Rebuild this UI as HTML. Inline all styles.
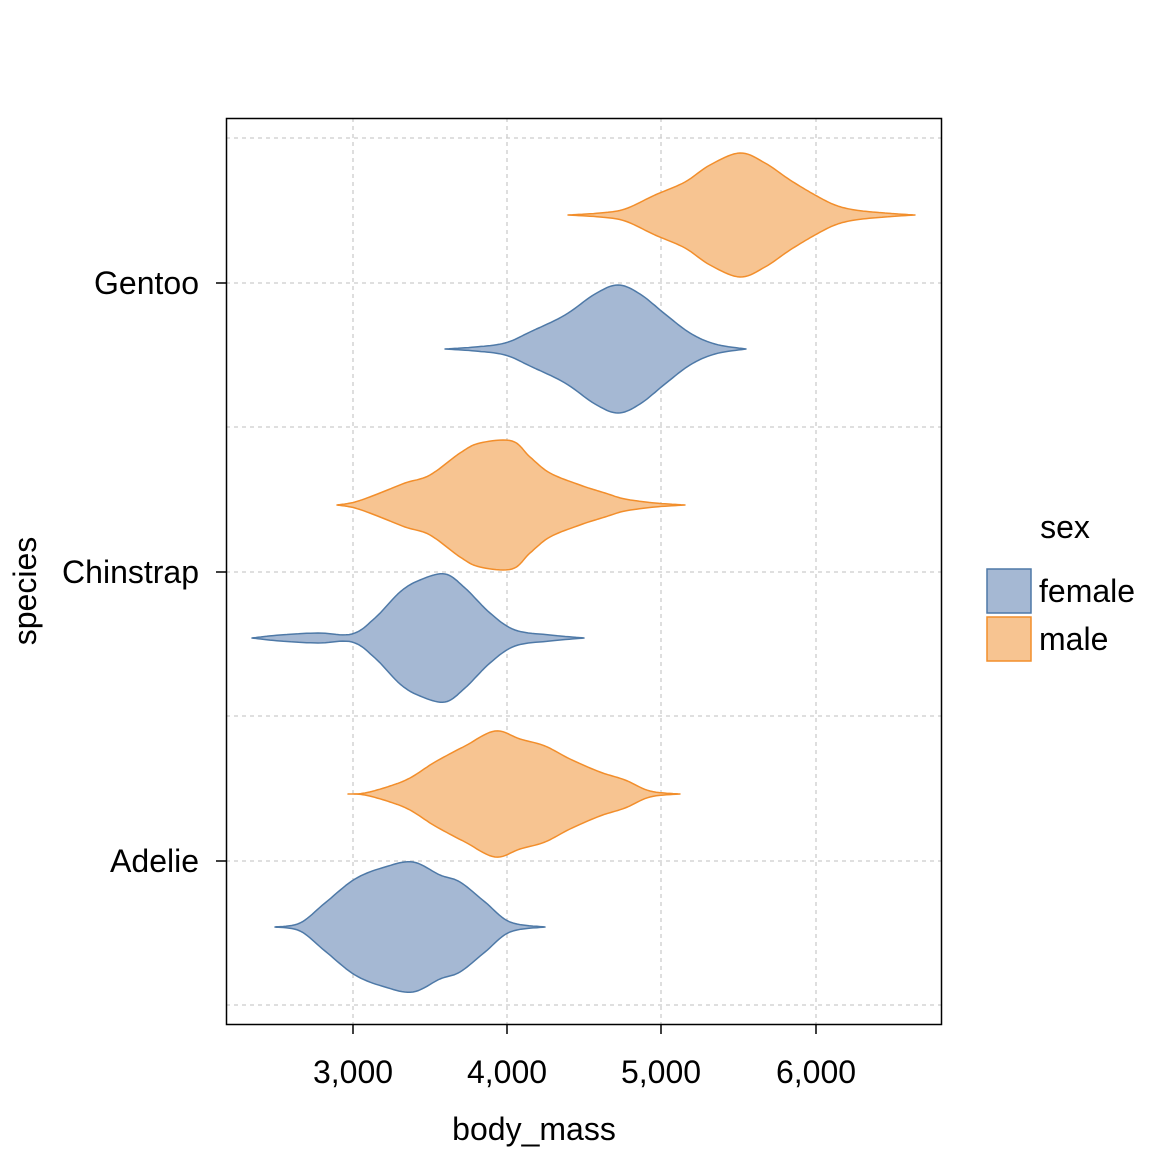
<!DOCTYPE html>
<html><head><meta charset="utf-8"><style>
html,body{margin:0;padding:0;background:#fff;}
svg text{font-family:"Liberation Sans",sans-serif;fill:#000;}
</style></head><body>
<svg id="s" width="1152" height="1152" viewBox="0 0 1152 1152" xmlns="http://www.w3.org/2000/svg">
<rect width="1152" height="1152" fill="#fff"/>
<g stroke="#ccc" stroke-width="1.3" stroke-dasharray="4,4" fill="none">
<line x1="353" y1="118" x2="353" y2="1024"/><line x1="507" y1="118" x2="507" y2="1024"/>
<line x1="661" y1="118" x2="661" y2="1024"/><line x1="816" y1="118" x2="816" y2="1024"/>
<line x1="226" y1="138" x2="942" y2="138"/><line x1="226" y1="283" x2="942" y2="283"/>
<line x1="226" y1="427" x2="942" y2="427"/><line x1="226" y1="572" x2="942" y2="572"/>
<line x1="226" y1="716" x2="942" y2="716"/><line x1="226" y1="861" x2="942" y2="861"/>
<line x1="226" y1="1005" x2="942" y2="1005"/>
</g>
<g id="v"></g>
<rect x="226.5" y="118.5" width="715" height="906" fill="none" stroke="#000" stroke-width="1.5"/>
<g stroke="#000" stroke-width="1.5">
<line x1="353" y1="1024" x2="353" y2="1034"/><line x1="507" y1="1024" x2="507" y2="1034"/>
<line x1="661" y1="1024" x2="661" y2="1034"/><line x1="816" y1="1024" x2="816" y2="1034"/>
<line x1="216" y1="283" x2="226" y2="283"/><line x1="216" y1="572" x2="226" y2="572"/><line x1="216" y1="861" x2="226" y2="861"/>
</g>
<g font-size="32">
<text x="353" y="1083" text-anchor="middle">3,000</text>
<text x="507" y="1083" text-anchor="middle">4,000</text>
<text x="661" y="1083" text-anchor="middle">5,000</text>
<text x="816" y="1083" text-anchor="middle">6,000</text>
<text x="199" y="294" text-anchor="end">Gentoo</text>
<text x="199" y="583" text-anchor="end">Chinstrap</text>
<text x="199" y="872" text-anchor="end">Adelie</text>
<text x="534" y="1140" text-anchor="middle">body_mass</text>
<text transform="translate(36,591) rotate(-90)" text-anchor="middle">species</text>
<text x="1065" y="538" text-anchor="middle">sex</text>
<text x="1039" y="602">female</text>
<text x="1039" y="650">male</text>
</g>
<rect x="987" y="569" width="44" height="44" fill="#a5b8d3" stroke="#4e79a7" stroke-width="1.5"/>
<rect x="987" y="617" width="44" height="44" fill="#f7c491" stroke="#f28e2b" stroke-width="1.5"/>
</svg>
<script>
var V=[
[215,'m',[[568,0],[600,2],[625,6],[655,20],[685,33],[710,50],[740,62],[765,52],[790,35],[815,20],[835,10],[855,5],[885,2],[915,0]]],
[349,'f',[[445,0],[475,2],[505,6],[530,17],[565,34],[595,55],[618,64],[640,55],[665,35],[690,16],[715,5],[746,0]]],
[505,'m',[[337,0],[355,3],[380,12],[405,22],[430,30],[460,52],[480,62],[512,64],[530,48],[550,32],[580,20],[605,12],[625,6],[655,2],[685,0]]],
[638,'f',[[252,0],[280,3],[318,5],[352,4],[375,20],[400,46],[420,58],[445,64],[465,50],[490,25],[515,8],[550,3],[584,0]]],
[794,'m',[[348,0],[365,1],[390,8],[410,16],[435,32],[465,48],[495,63],[520,55],[545,48],[570,35],[600,22],[625,14],[650,3],[680,0]]],
[927,'f',[[275,0],[300,4],[325,24],[355,48],[385,60],[413,65],[440,52],[460,45],[485,25],[510,5],[545,0]]]];
function smooth(p){var o=[];for(var i=0;i<p.length-1;i++){var a=p[Math.max(i-1,0)],b=p[i],c=p[i+1],d=p[Math.min(i+2,p.length-1)];
for(var t=0;t<1;t+=0.1){var t2=t*t,t3=t2*t;o.push([0,1].map(function(k){return 0.5*((2*b[k])+(-a[k]+c[k])*t+(2*a[k]-5*b[k]+4*c[k]-d[k])*t2+(-a[k]+3*b[k]-3*c[k]+d[k])*t3);}));}}
o.push(p[p.length-1]);return o;}
var g=document.getElementById('v'),h='';
V.forEach(function(v){var s=smooth(v[2]),pts=[];s.forEach(function(q){pts.push(q[0].toFixed(1)+','+(v[0]-Math.max(0,q[1])).toFixed(1));});
for(var i=s.length-1;i>=0;i--)pts.push(s[i][0].toFixed(1)+','+(v[0]+Math.max(0,s[i][1])).toFixed(1));
var f=v[1]=='m'?'fill="#f7c491" stroke="#f28e2b"':'fill="#a5b8d3" stroke="#4e79a7"';
h+='<polygon points="'+pts.join(' ')+'" '+f+' stroke-width="1.5" stroke-linejoin="round"/>';});
g.innerHTML=h;
</script>
</body></html>
